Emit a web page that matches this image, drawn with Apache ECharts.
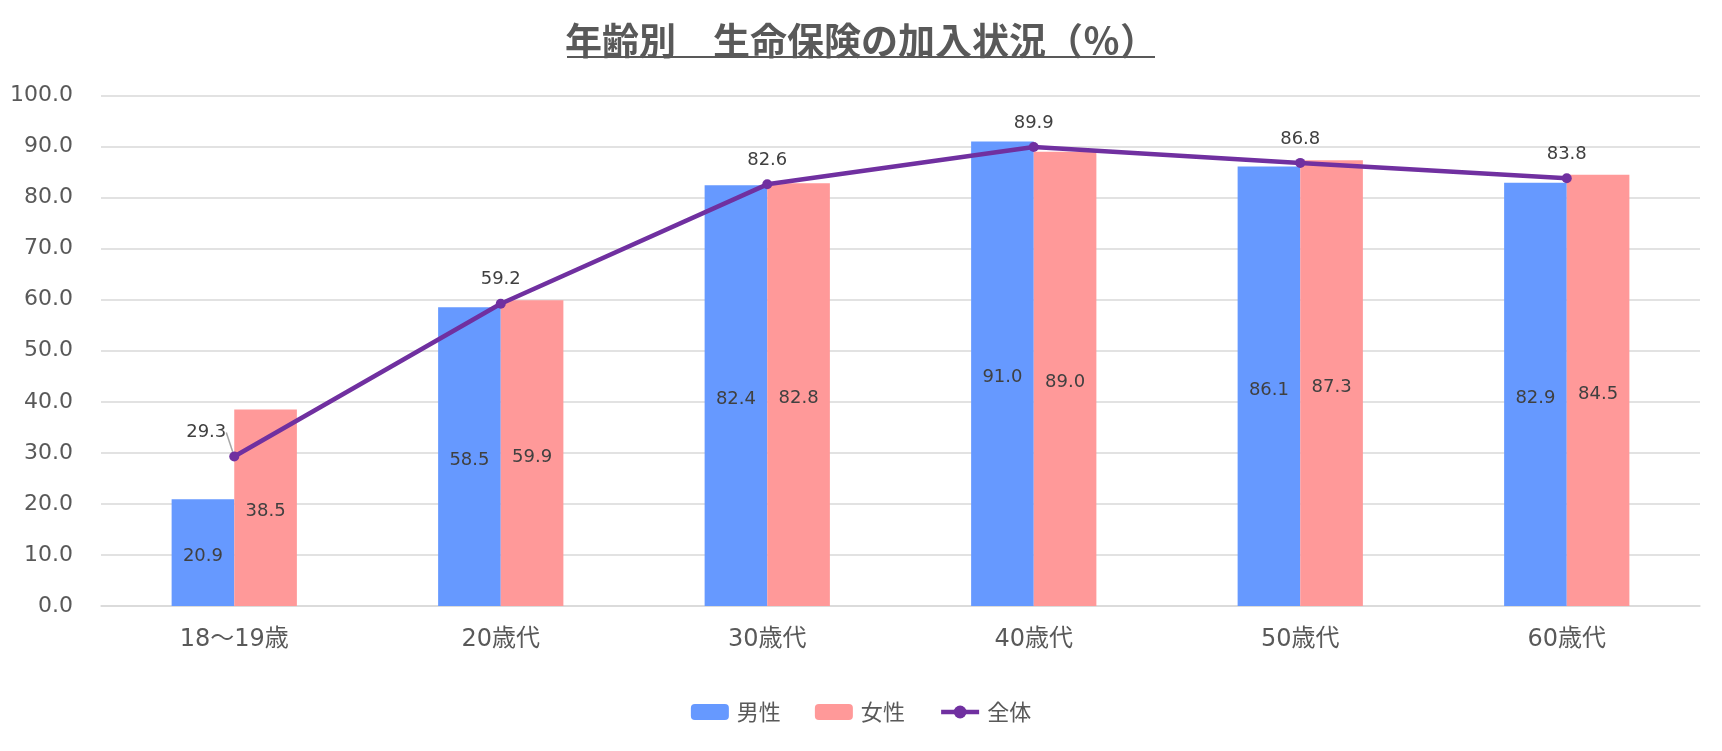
<!DOCTYPE html>
<html>
<head>
<meta charset="utf-8">
<script src="https://cdn.jsdelivr.net/npm/echarts@6/dist/echarts.min.js"></script>
<style>
  html, body { margin: 0; padding: 0; background: #fff; }
  #chart { width: 1722px; height: 751px; }
</style>
</head>
<body>
<div id="chart"></div>
<script>
const categories = ['18〜19歳', '20歳代', '30歳代', '40歳代', '50歳代', '60歳代']
const maleValues = [20.9, 58.5, 82.4, 91.0, 86.1, 82.9]
const femaleValues = [38.5, 59.9, 82.8, 89.0, 87.3, 84.5]
const totalValues = [29.3, 59.2, 82.6, 89.9, 86.8, 83.8]
const yTicks = { min: 0, max: 100, interval: 10 }

const FONT = '"DejaVu Sans", "Noto Sans CJK JP", sans-serif'
const CJK = '"Noto Sans CJK JP", sans-serif'
const TEXT = '#595959'
const PURPLE = '#7030A0'

const chart = echarts.init(document.getElementById('chart'))

const valueLabel = {
  show: true,
  color: '#404040',
  fontSize: 18,
  fontFamily: FONT,
  formatter: (p) => p.value.toFixed(1)
}

// only the first point of 全体 has its label pulled aside with a leader line
const totalData = totalValues.map((v, i) => i === 0
  ? { value: v, labelLine: { show: true } }
  : v)

const option = {
  animation: false,
  textStyle: { fontFamily: FONT },
  title: {
    text: '年齢別　生命保険の加入状況（％）',
    left: 'center',
    top: 17,
    textStyle: { fontSize: 37, fontWeight: 'bold', color: TEXT, fontFamily: CJK }
  },
  graphic: [
    {
      type: 'rect',
      shape: { x: 567, y: 56, width: 588, height: 2 },
      style: { fill: TEXT }
    }
  ],
  grid: { left: 101, right: 22, top: 95.5, bottom: 145 },
  legend: {
    top: 696,
    left: 'center',
    itemWidth: 38,
    itemHeight: 16,
    itemGap: 34,
    textStyle: { fontSize: 22, color: TEXT, fontFamily: CJK, padding: [0, 0, 0, 3] },
    data: ['男性', '女性', { name: '全体', lineStyle: { width: 4.5 } }]
  },
  xAxis: {
    type: 'category',
    data: categories,
    axisLine: { lineStyle: { color: '#d9d9d9', width: 1.5 } },
    axisTick: { show: false },
    axisLabel: { fontSize: 24, color: TEXT, margin: 22, fontFamily: FONT }
  },
  yAxis: {
    type: 'value',
    min: yTicks.min,
    max: yTicks.max,
    interval: yTicks.interval,
    axisLine: { show: false },
    axisTick: { show: false },
    splitLine: { lineStyle: { color: '#d9d9d9', width: 1.5 } },
    axisLabel: {
      fontSize: 22,
      color: TEXT,
      margin: 28,
      fontFamily: FONT,
      formatter: (v) => v.toFixed(1)
    }
  },
  series: [
    {
      name: '男性',
      type: 'bar',
      data: maleValues,
      barGap: '0%',
      barCategoryGap: '53%',
      itemStyle: { color: '#6699FF' },
      label: { ...valueLabel, position: 'inside', offset: [0, 4] }
    },
    {
      name: '女性',
      type: 'bar',
      data: femaleValues,
      itemStyle: { color: '#FF9999' },
      label: { ...valueLabel, position: 'inside', offset: [0, 4] }
    },
    {
      name: '全体',
      type: 'line',
      data: totalData,
      symbol: 'circle',
      symbolSize: 10,
      lineStyle: { color: PURPLE, width: 4.5 },
      itemStyle: { color: PURPLE },
      label: { ...valueLabel, position: 'top', distance: 10 },
      labelLine: { show: false, lineStyle: { color: '#a6a6a6', width: 1.5 } },
      labelLayout: (params) => {
        if (params.dataIndex === 0) {
          return { dx: -28, dy: 0 }
        }
        return {}
      },
      z: 5
    }
  ]
}

chart.setOption(option)
</script>
</body>
</html>
